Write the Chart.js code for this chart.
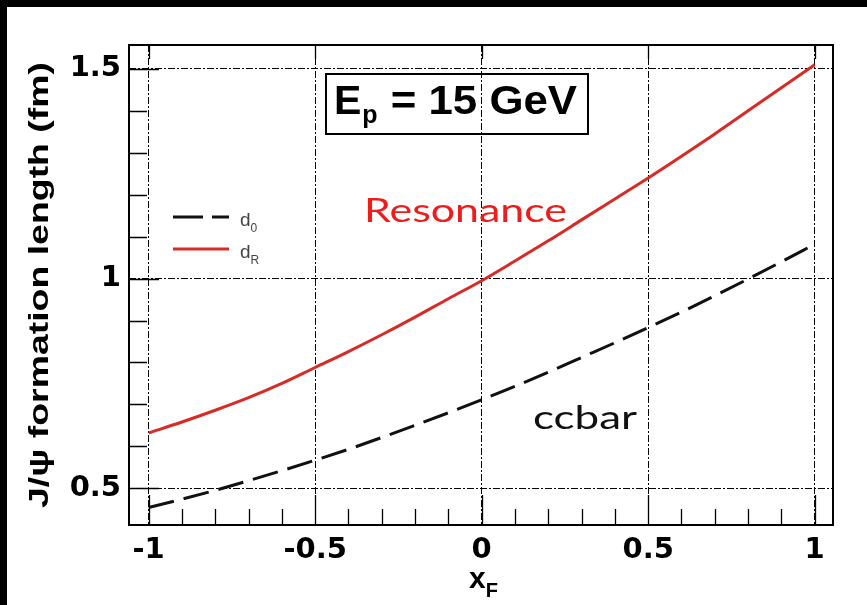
<!DOCTYPE html>
<html style="background:#fff">
<head>
<meta charset="utf-8">
<script src="https://cdn.jsdelivr.net/npm/chart.js@4.4.1/dist/chart.umd.min.js"></script>
<style>
html,body{margin:0;padding:0;background:#fff;}
</style>
</head>
<body>
<canvas id="c" width="867" height="605" style="display:block"></canvas>
<script>
// ---- data ----
const xValues = [-1,-0.9,-0.8,-0.7,-0.6,-0.5,-0.4,-0.3,-0.2,-0.1,0,0.1,0.2,0.3,0.4,0.5,0.6,0.7,0.8,0.9,1];
const dR = [0.632,0.658,0.686,0.716,0.750,0.788,0.826,0.866,0.908,0.952,0.995,1.042,1.090,1.140,1.190,1.240,1.292,1.345,1.400,1.455,1.510];
const d0 = [0.454,0.474,0.495,0.518,0.542,0.567,0.593,0.621,0.650,0.680,0.711,0.743,0.777,0.812,0.847,0.883,0.920,0.959,0.999,1.040,1.082];
const xTicks = [-1,-0.5,0,0.5,1];
const yTicks = [0.5,1,1.5];
const xMinor = [-1,-0.9,-0.8,-0.7,-0.6,-0.5,-0.4,-0.3,-0.2,-0.1,0,0.1,0.2,0.3,0.4,0.5,0.6,0.7,0.8,0.9,1];
const yMinor = [0.5,0.6,0.7,0.8,0.9,1,1.1,1.2,1.3,1.4,1.5];
const seriesNames = ['d','d'];
const seriesSubs = ['0','R'];
const xTitle = ['x','F'];
const yTitle = 'J/\u03C8 formation length (fm)';
const boxText = ['E','p',' = 15 GeV'];
const noteRes = 'Resonance';
const noteCc = 'ccbar';

const RED = '#d82a26';

function pts(ys){ return xValues.map((x,i)=>({x:x,y:ys[i]})); }

function fitText(ctx, text, x, y, w, font, color){
  ctx.save();
  ctx.font = font;
  ctx.fillStyle = color;
  ctx.textAlign = 'left';
  ctx.textBaseline = 'alphabetic';
  const m = ctx.measureText(text).width;
  ctx.translate(x, y);
  ctx.scale(w/m, 1);
  ctx.fillText(text, 0, 0);
  ctx.restore();
}

const decor = {
  id:'decor',
  beforeDraw(chart){
    const ctx = chart.ctx;
    ctx.save();
    ctx.fillStyle = '#fff';
    ctx.fillRect(0,0,867,605);
    ctx.fillStyle = '#000';
    ctx.fillRect(0,0,867,7);
    ctx.fillRect(0,0,7,605);
    ctx.restore();
  },
  afterDraw(chart){
    const ctx = chart.ctx;
    const a = chart.chartArea;
    const xs = chart.scales.x, ys = chart.scales.y;
    ctx.save();
    // minor / major ticks
    ctx.strokeStyle = '#000';
    ctx.lineWidth = 1.3;
    ctx.setLineDash([]);
    ctx.beginPath();
    xMinor.forEach(v=>{
      const px = Math.round(xs.getPixelForValue(v))+0.5;
      const major = xTicks.some(t=>Math.abs(t-v)<1e-9);
      const len = major ? 30 : 16;
      ctx.moveTo(px, a.bottom); ctx.lineTo(px, a.bottom-len);
      if (major){ ctx.moveTo(px, a.top); ctx.lineTo(px, a.top+14); }
    });
    yMinor.forEach(v=>{
      const py = Math.round(ys.getPixelForValue(v))+0.5;
      const major = yTicks.some(t=>Math.abs(t-v)<1e-9);
      const len = major ? 30 : 18;
      ctx.moveTo(a.left, py); ctx.lineTo(a.left+len, py);
    });
    ctx.stroke();
    // frame
    ctx.lineWidth = 2;
    ctx.strokeRect(a.left, a.top, a.right-a.left, a.bottom-a.top);

    // annotation box
    ctx.lineWidth = 2;
    ctx.strokeRect(326, 74, 262, 60);
    ctx.fillStyle = '#000';
    ctx.font = 'bold 41px "Liberation Sans", Arial, sans-serif';
    ctx.textBaseline = 'alphabetic';
    ctx.fillText(boxText[0], 334, 114);
    const wE = ctx.measureText(boxText[0]).width;
    ctx.font = 'bold 25px "Liberation Sans", Arial, sans-serif';
    ctx.fillText(boxText[1], 334+wE+1, 123);
    const wp = ctx.measureText(boxText[1]).width;
    fitText(ctx, boxText[2], 334+wE+wp+2, 114, 577-(334+wE+wp+2), 'bold 41px "Liberation Sans", Arial, sans-serif', '#000');

    // legend
    const ds = chart.data.datasets;
    const legY = [217, 249];
    [0,1].forEach((di,k)=>{
      const d = ds[di];
      ctx.save();
      ctx.strokeStyle = d.borderColor;
      ctx.lineWidth = d.borderWidth;
      ctx.setLineDash(di===0 ? [30,9] : []);
      ctx.beginPath();
      ctx.moveTo(173, legY[k]); ctx.lineTo(229, legY[k]);
      ctx.stroke();
      ctx.restore();
      ctx.fillStyle = '#444';
      ctx.font = '19px "Liberation Sans", Arial, sans-serif';
      ctx.fillText(seriesNames[di], 240, legY[k]+9);
      const wd = ctx.measureText(seriesNames[di]).width;
      ctx.font = '12px "Liberation Sans", Arial, sans-serif';
      ctx.fillText(seriesSubs[di], 240+wd, legY[k]+15);
    });

    // notes
    fitText(ctx, noteRes, 364, 222, 203, '33px Lato, "Open Sans", sans-serif', '#ee1c1c');
    fitText(ctx, noteCc, 533, 429, 104, '33px Lato, "Open Sans", sans-serif', '#111');

    // y title
    ctx.save();
    ctx.translate(48, 285);
    ctx.rotate(-Math.PI/2);
    ctx.font = 'bold 27px "Liberation Sans", Arial, sans-serif';
    const wt = ctx.measureText(yTitle).width;
    ctx.scale(446/wt, 1);
    ctx.fillStyle = '#000';
    ctx.textAlign = 'center';
    ctx.fillText(yTitle, 0, 0);
    ctx.restore();

    // x title
    ctx.fillStyle = '#000';
    ctx.font = 'bold 30px "Liberation Sans", Arial, sans-serif';
    ctx.fillText(xTitle[0], 469, 588);
    const wx = ctx.measureText(xTitle[0]).width;
    ctx.font = 'bold 20px "Liberation Sans", Arial, sans-serif';
    ctx.fillText(xTitle[1], 469+wx, 597);
    ctx.restore();
  }
};

new Chart(document.getElementById('c'), {
  type:'line',
  data:{
    datasets:[
      {label:'d0', data:pts(d0), borderColor:'#111', borderWidth:3, borderDash:[26,10], pointRadius:0, cubicInterpolationMode:'monotone', fill:false},
      {label:'dR', data:pts(dR), borderColor:RED, borderWidth:3, pointRadius:0, cubicInterpolationMode:'monotone', fill:false}
    ]
  },
  options:{
    responsive:false,
    animation:false,
    devicePixelRatio:1,
    layout:{padding:{top:45, right:34, bottom:0, left:0}},
    plugins:{legend:{display:false}, tooltip:{enabled:false}, title:{display:false}},
    scales:{
      x:{
        type:'linear', min:-1.059, max:1.055,
        afterBuildTicks(s){ s.ticks = xTicks.map(v=>({value:v})); },
        afterFit(s){ s.height = 80; },
        grid:{color:'#000', lineWidth:1, drawTicks:false},
        border:{display:false, dash:[7,2,2,2]},
        ticks:{color:'#000', padding:8, maxRotation:0, autoSkip:false,
          font:{family:'"DejaVu Sans"', weight:'bold', size:29},
          callback:(v)=>String(v)}
      },
      y:{
        type:'linear', min:0.4124, max:1.557,
        afterBuildTicks(s){ s.ticks = yTicks.map(v=>({value:v})); },
        afterFit(s){ s.width = 129; },
        grid:{color:'#000', lineWidth:1, drawTicks:false},
        border:{display:false, dash:[7,2,2,2]},
        ticks:{color:'#000', padding:8, autoSkip:false,
          font:{family:'"DejaVu Sans"', weight:'bold', size:29},
          callback:(v)=>String(v)}
      }
    }
  },
  plugins:[decor]
});
</script>
</body>
</html>
